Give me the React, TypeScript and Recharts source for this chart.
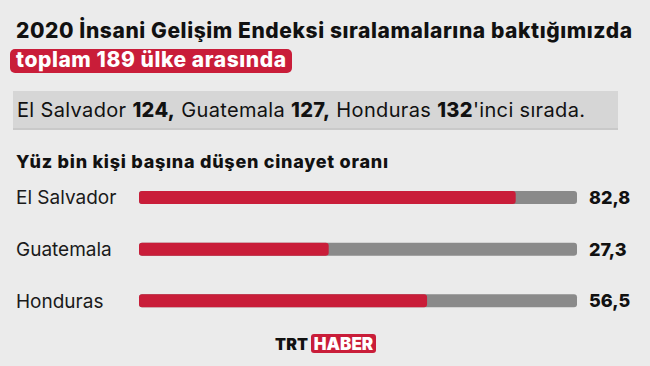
import React from "react";
import { BarChart, Bar, XAxis, YAxis, LabelList } from "recharts";

const countries = ["El Salvador", "Guatemala", "Honduras"];
const murderRates = [82.8, 27.3, 56.5];
const hdiRanks = [124, 127, 132];

const titleLine1 = "2020 İnsani Gelişim Endeksi sıralamalarına baktığımızda";
const titleLine2 = "toplam 189 ülke arasında";
const chartTitle = "Yüz bin kişi başına düşen cinayet oranı";

const axisMin = -29;
const axisMax = 101;

const data = countries.map((name, i) => ({ name, rate: murderRates[i], rank: hdiRanks[i] }));

const FONT = "Inter, 'Noto Sans', sans-serif";
const RED = "#c91d39";
const TRACK = "#8a8a8a";

const fmt = (v: number) => v.toFixed(1).replace(".", ",");

const CountryTick = (props: any) => {
  const { y, payload } = props;
  return (
    <text x={16} y={y + 6.5} fontFamily={FONT} fontSize={19} fill="#1a1a1a" textAnchor="start">
      {payload.value}
    </text>
  );
};

const ValueLabel = (props: any) => {
  const { y, height, value } = props;
  return (
    <text x={589} y={y + height / 2 + 6.5} fontFamily={FONT} fontSize={18} fontWeight={800} fill="#111">
      {fmt(value)}
    </text>
  );
};

export default function App() {
  return (
    <div style={{ position: "absolute", left: 0, top: 0, width: 650, height: 366, background: "#ebebeb", overflow: "hidden" }}>
      <svg width={650} height={366} style={{ position: "absolute", left: 0, top: 0 }}>
        <text x={16} y={38} fontFamily={FONT} fontSize={21} fontWeight={800} fill="#111" textLength={616}>{titleLine1}</text>
        <rect x={10} y={49} width={282} height={24} rx={5} fill={RED} />
        <text x={16} y={67} fontFamily={FONT} fontSize={21} fontWeight={800} fill="#fff" textLength={270}>{titleLine2}</text>
        <rect x={13} y={92} width={605} height={38} fill="#c9c9c9" />
        <rect x={13} y={91} width={605} height={37} fill="#d6d6d6" />
        <text x={17} y={117} fontFamily={FONT} fontSize={20} fill="#111" textLength={568}>
          {countries.map((c, i) => (
            <React.Fragment key={c}>
              <tspan>{(i > 0 ? " " : "") + c + " "}</tspan>
              <tspan fontWeight={800}>{String(hdiRanks[i]) + (i < countries.length - 1 ? "," : "")}</tspan>
            </React.Fragment>
          ))}
          <tspan>'inci sırada.</tspan>
        </text>
        <text x={16} y={168} fontFamily={FONT} fontSize={18} fontWeight={800} fill="#111" textLength={372}>{chartTitle}</text>
        <text x={275} y={350} fontFamily={FONT} fontSize={16} fontWeight={900} fill="#111" textLength={33}>TRT</text>
        <rect x={311} y={334} width={65} height={19} rx={3} fill={RED} />
        <text x={343.5} y={349.5} fontFamily={FONT} fontSize={17} fontWeight={900} fill="#fff" textAnchor="middle">HABER</text>
      </svg>
      <div style={{ position: "absolute", left: 0, top: 0 }}>
        <BarChart
          width={650}
          height={366}
          data={data}
          layout="vertical"
          margin={{ top: 172, right: 73, bottom: 39, left: 0 }}
          barSize={13}
        >
          <XAxis type="number" domain={[axisMin, axisMax]} hide allowDataOverflow />
          <YAxis type="category" dataKey="name" width={139} axisLine={false} tickLine={false} tick={<CountryTick />} />
          <Bar
            dataKey={(d: any) => [axisMin, d.rate]}
            fill={RED}
            radius={3}
            background={{ fill: TRACK, radius: 3 } as any}
            isAnimationActive={false}
          >
            <LabelList dataKey="rate" content={<ValueLabel />} />
          </Bar>
        </BarChart>
      </div>
    </div>
  );
}
